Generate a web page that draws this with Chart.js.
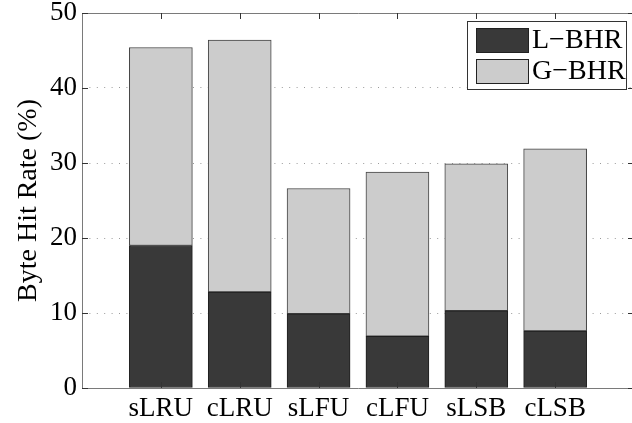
<!DOCTYPE html>
<html>
<head>
<meta charset="utf-8">
<script src="https://cdn.jsdelivr.net/npm/chart.js@4"></script>
<style>
  html, body { margin: 0; padding: 0; background: #fff; overflow: hidden; }
  #wrap { width: 632px; height: 423px; overflow: hidden; }
  canvas { display: block; }
</style>
</head>
<body>
<div id="wrap"><canvas id="myChart" width="640" height="423"></canvas></div>
<script>
// cache policies and their byte hit rates (%)
var policies = ["sLRU", "cLRU", "sLFU", "cLFU", "sLSB", "cLSB"];
var localBHR = [19.0, 12.8, 9.9, 6.9, 10.3, 7.6];
var globalBHR = [26.4, 33.6, 16.7, 21.9, 19.6, 24.3];
var yTicks = [0, 10, 20, 30, 40, 50];

var serif = "'Liberation Serif', 'DejaVu Serif', serif";

// empty slots at both ends so the x range runs from 0 to 7
var labels = [""].concat(policies, [""]);
function pad(arr) { return [null].concat(arr, [null]); }

// axes frame (left, top, bottom) with inward ticks
var boxPlugin = {
  id: "box",
  afterDraw: function(chart) {
    var ctx = chart.ctx, a = chart.chartArea;
    var x = chart.scales.x, y = chart.scales.y;
    ctx.save();
    ctx.strokeStyle = "#7a7a7a";
    ctx.lineWidth = 1;
    ctx.beginPath();
    ctx.moveTo(a.right, a.top + 0.5);
    ctx.lineTo(a.left + 0.5, a.top + 0.5);
    ctx.lineTo(a.left + 0.5, a.bottom + 0.5);
    ctx.lineTo(a.right, a.bottom + 0.5);
    ctx.stroke();
    ctx.strokeStyle = "#333";
    ctx.beginPath();
    yTicks.forEach(function(v) {
      var py = Math.round(y.getPixelForValue(v)) + 0.5;
      ctx.moveTo(a.left, py); ctx.lineTo(a.left + 6, py);
      ctx.moveTo(a.right, py); ctx.lineTo(a.right - 6, py);
    });
    policies.forEach(function(p, i) {
      var px = Math.round(x.getPixelForValue(i + 1)) + 0.5;
      ctx.moveTo(px, a.top); ctx.lineTo(px, a.top + 6);
      ctx.moveTo(px, a.bottom); ctx.lineTo(px, a.bottom - 6);
    });
    ctx.stroke();
    ctx.restore();
  }
};

// legend box in the upper right corner
var legendBox = {
  id: "legendBox",
  afterDraw: function(chart) {
    var ctx = chart.ctx;
    var left = 467, top = 21, w = 159, h = 68;
    ctx.save();
    ctx.fillStyle = "#fff";
    ctx.fillRect(left, top, w, h);
    ctx.strokeStyle = "#333";
    ctx.lineWidth = 1;
    ctx.strokeRect(left + 0.5, top + 0.5, w, h);
    ctx.font = "28px " + serif;
    ctx.textBaseline = "middle";
    chart.data.datasets.forEach(function(ds, i) {
      var sy = top + 7 + i * 31;
      ctx.fillStyle = ds.backgroundColor;
      ctx.fillRect(left + 9, sy, 52, 24);
      ctx.strokeStyle = "#222";
      ctx.strokeRect(left + 9.5, sy + 0.5, 52, 24);
      ctx.fillStyle = "#000";
      ctx.fillText(ds.label, left + 65, sy + 13);
    });
    ctx.restore();
  }
};

var myChart = document.getElementById("myChart").getContext("2d");
var chart = new Chart(myChart, {
  type: "bar",
  data: {
    labels: labels,
    datasets: [
      {
        label: "L\u2212BHR",
        data: pad(localBHR),
        backgroundColor: "#393939",
        borderColor: "#1e1e1e",
        borderWidth: 1,
        borderSkipped: false,
        barThickness: 63
      },
      {
        label: "G\u2212BHR",
        data: pad(globalBHR),
        backgroundColor: "#cccccc",
        borderColor: "#444",
        borderWidth: 1,
        borderSkipped: false,
        barThickness: 63
      }
    ]
  },
  options: {
    responsive: false,
    devicePixelRatio: 1,
    animation: false,
    layout: { padding: { top: 13, right: 6, left: 0, bottom: 0 } },
    plugins: {
      legend: { display: false },
      tooltip: { enabled: false }
    },
    scales: {
      x: {
        stacked: true,
        offset: false,
        grid: { display: false, drawTicks: false },
        border: { display: false },
        ticks: {
          color: "#000",
          font: { family: serif, size: 27 },
          padding: 5,
          autoSkip: false,
          maxRotation: 0
        },
        afterFit: function(s) {
          s.height = 35;
          s.paddingLeft = 0; s.paddingRight = 0;
        }
      },
      y: {
        stacked: true,
        min: 0,
        max: 50,
        grid: { color: "#9a9a9a", lineWidth: 1, drawTicks: false },
        border: { display: false, dash: [1, 6.4] },
        ticks: {
          stepSize: 10,
          color: "#000",
          font: { family: serif, size: 27 },
          padding: 5
        },
        title: {
          display: true,
          text: "Byte Hit Rate (%)",
          color: "#000",
          font: { family: serif, size: 28 },
          padding: { top: 12, bottom: 0 }
        },
        afterFit: function(s) {
          s.width = 82;
          s.paddingTop = 0; s.paddingBottom = 0;
        }
      }
    }
  },
  plugins: [boxPlugin, legendBox]
});
</script>
</body>
</html>
